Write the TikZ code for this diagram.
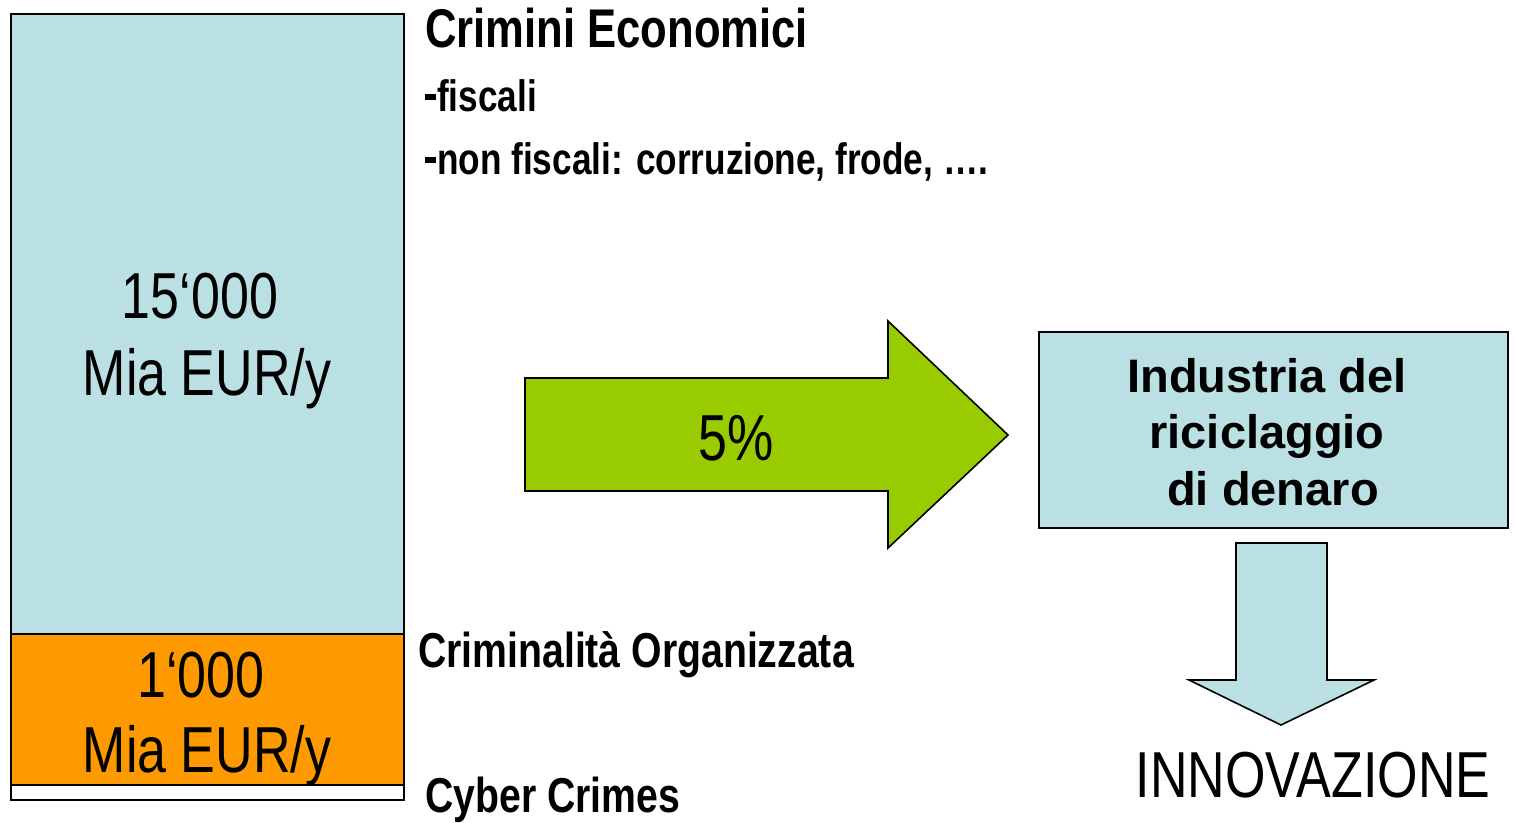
\documentclass[tikz,border=0pt]{standalone}
\usepackage{fontspec}
\setmainfont{Liberation Sans}
\newfontfamily\narrowf[FakeStretch=0.8]{Liberation Sans}
\definecolor{lblue}{HTML}{BBE0E3}
\definecolor{orng}{HTML}{FF9900}
\definecolor{lgreen}{HTML}{99CC00}
\newcommand{\blockdash}{\rule[11pt]{11pt}{6.5pt}\kern1pt}
\begin{document}
\begin{tikzpicture}[x=1pt,y=-1pt,
  shapeline/.style={draw=black, line width=1.6pt, line join=miter},
  title/.style={inner sep=0pt, anchor=base west, font=\narrowf\bfseries\fontsize{54.5}{60}\selectfont},
  bullet/.style={inner sep=0pt, anchor=base west, font=\narrowf\bfseries\fontsize{44}{50}\selectfont},
  sidelbl/.style={inner sep=0pt, anchor=base west, font=\narrowf\bfseries\fontsize{49}{54}\selectfont},
  bigval/.style={inner sep=0pt, anchor=base, font=\narrowf\fontsize{65}{72}\selectfont},
  boxtxt/.style={inner sep=0pt, anchor=base, font=\bfseries\fontsize{47}{54}\selectfont}]
\useasboundingbox (0,0) rectangle (1514,822);

% left stacked bar
\draw[shapeline, fill=lblue] (11,14) rectangle (404,634);
\draw[shapeline, fill=orng] (11,634) rectangle (404,785);
\draw[shapeline, fill=white] (11,785) rectangle (404,800);

\node[bigval] (v1) at (200,318) {15‘000};
\node[bigval] (u1) at (207,395) {Mia EUR/y};
\node[bigval] (v2) at (201,697) {1‘000};
\node[bigval] (u2) at (207,772) {Mia EUR/y};

% labels
\node[title] (ce) at (425,47) {Crimini Economici};
\node[bullet] (fi) at (425,111) {\blockdash fiscali};
\node[bullet] (nf) at (425,174) {\blockdash non fiscali: corruzione, frode, ….};
\node[sidelbl] (co) at (418,667) {Criminalità Organizzata};
\node[sidelbl] (cc) at (425,812) {Cyber Crimes};

% green arrow
\draw[shapeline, fill=lgreen] (525,378) -- (888,378) -- (888,321) -- (1008,435)
  -- (888,548) -- (888,491) -- (525,491) -- cycle;
\node[bigval] (pct) at (736,460) {5\%};

% industry box
\draw[shapeline, fill=lblue] (1039,332) rectangle (1508,528);
\node[boxtxt] (i1) at (1267,392) {Industria del};
\node[boxtxt] (i2) at (1267,448) {riciclaggio};
\node[boxtxt] (i3) at (1273,505) {di denaro};

% down arrow
\draw[shapeline, fill=lblue] (1236,543) -- (1327,543) -- (1327,680) -- (1374,680)
  -- (1281,725) -- (1189,680) -- (1236,680) -- cycle;

\node[bigval] (inn) at (1313,797) {INNOVAZIONE};
\end{tikzpicture}
\end{document}
